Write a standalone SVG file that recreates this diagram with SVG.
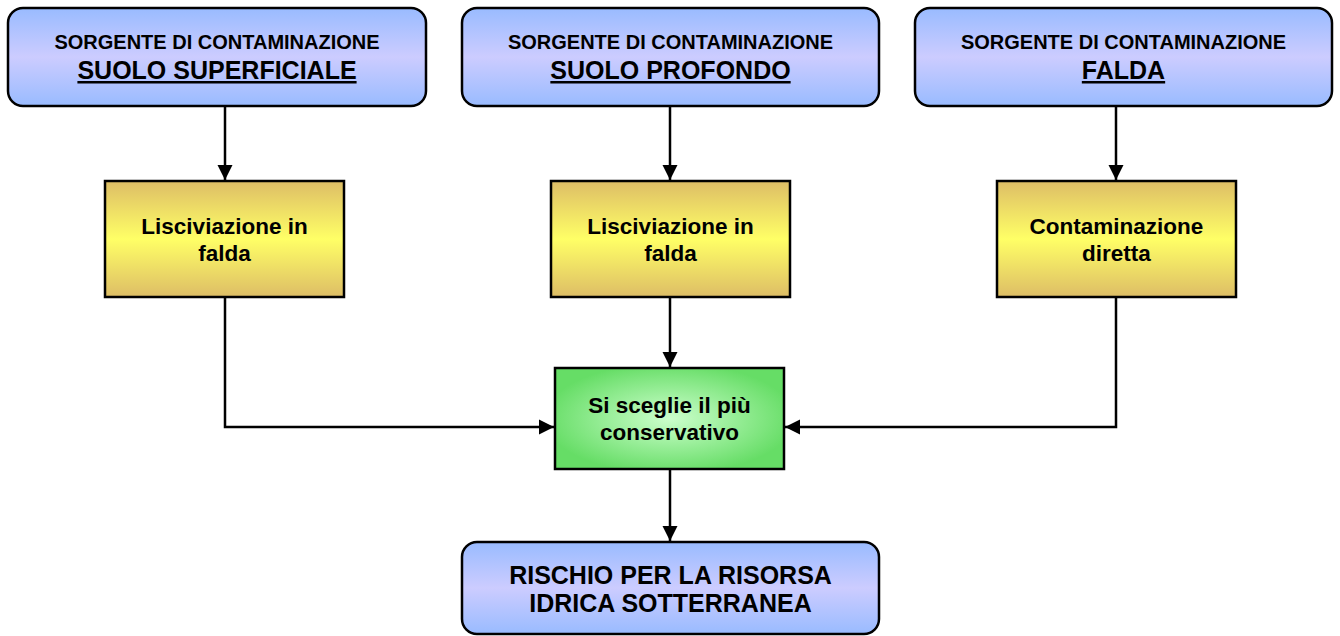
<svg xmlns="http://www.w3.org/2000/svg" width="1340" height="636" viewBox="0 0 1340 636">
<defs>
<linearGradient id="gBlue" x1="0" y1="0" x2="0" y2="1">
<stop offset="0" stop-color="#99BBFF"/>
<stop offset="0.5" stop-color="#CCCCFF"/>
<stop offset="1" stop-color="#99BBFF"/>
</linearGradient>
<linearGradient id="gYellow" x1="0" y1="0" x2="0" y2="1">
<stop offset="0" stop-color="#DDBD66"/>
<stop offset="0.5" stop-color="#FFFF66"/>
<stop offset="1" stop-color="#DDBD66"/>
</linearGradient>
<radialGradient id="gGreen" cx="0.5" cy="0.5" r="0.55">
<stop offset="0" stop-color="#CCFFCC"/>
<stop offset="1" stop-color="#66DD66"/>
</radialGradient>
<marker id="arr" markerUnits="userSpaceOnUse" markerWidth="16" markerHeight="16" viewBox="0 0 16 16" refX="15" refY="8" orient="auto">
<path d="M0,0.5 L15,8 L0,15.5 Z" fill="#000"/>
</marker>
<style>
.blue{fill:url(#gBlue);stroke:#000;stroke-width:2.5}
.yel{fill:url(#gYellow);stroke:#000;stroke-width:2.5}
.grn{fill:url(#gGreen);stroke:#000;stroke-width:2.5}
.t{font-family:"Liberation Sans",Arial,sans-serif;font-weight:bold;fill:#000;text-anchor:middle}
.s20{font-size:20px}
.s25{font-size:25px}
.s22{font-size:22.5px}
.u{text-decoration:underline}
.c{fill:none;stroke:#000;stroke-width:2.5}
</style>
</defs>
<rect width="1340" height="636" fill="#fff"/>
<g id="connectors">
<path class="c" d="M225,107 V180" marker-end="url(#arr)"/>
<path class="c" d="M670,107 V180" marker-end="url(#arr)"/>
<path class="c" d="M1116,107 V180" marker-end="url(#arr)"/>
<path class="c" d="M225,297 V427 H554" marker-end="url(#arr)"/>
<path class="c" d="M670,297 V367" marker-end="url(#arr)"/>
<path class="c" d="M1116,297 V427 H785" marker-end="url(#arr)"/>
<path class="c" d="M670,469 V541" marker-end="url(#arr)"/>
</g>
<g id="src1">
<rect class="blue" x="8" y="8" width="418" height="98" rx="15"/>
<text class="t s20" x="217" y="49">SORGENTE DI CONTAMINAZIONE</text>
<text class="t s25 u" x="217" y="79">SUOLO SUPERFICIALE</text>
</g>
<g id="src2">
<rect class="blue" x="462" y="8" width="417" height="98" rx="15"/>
<text class="t s20" x="670.5" y="49">SORGENTE DI CONTAMINAZIONE</text>
<text class="t s25 u" x="670.5" y="79">SUOLO PROFONDO</text>
</g>
<g id="src3">
<rect class="blue" x="915" y="8" width="417" height="98" rx="15"/>
<text class="t s20" x="1123.5" y="49">SORGENTE DI CONTAMINAZIONE</text>
<text class="t s25 u" x="1123.5" y="79">FALDA</text>
</g>
<g id="lisc1">
<rect class="yel" x="105" y="181" width="239" height="116"/>
<text class="t s22" x="224.5" y="234">Lisciviazione in</text>
<text class="t s22" x="224.5" y="261">falda</text>
</g>
<g id="lisc2">
<rect class="yel" x="551" y="181" width="239" height="116"/>
<text class="t s22" x="670.5" y="234">Lisciviazione in</text>
<text class="t s22" x="670.5" y="261">falda</text>
</g>
<g id="contdir">
<rect class="yel" x="997" y="181" width="239" height="116"/>
<text class="t s22" x="1116.5" y="234">Contaminazione</text>
<text class="t s22" x="1116.5" y="261">diretta</text>
</g>
<g id="scelta">
<rect class="grn" x="555" y="368" width="229" height="101"/>
<text class="t s22" x="669.5" y="413">Si sceglie il più</text>
<text class="t s22" x="669.5" y="440">conservativo</text>
</g>
<g id="rischio">
<rect class="blue" x="462" y="542" width="417" height="92" rx="15"/>
<text class="t s25" x="670.5" y="584">RISCHIO PER LA RISORSA</text>
<text class="t s25" x="670.5" y="612">IDRICA SOTTERRANEA</text>
</g>
</svg>
